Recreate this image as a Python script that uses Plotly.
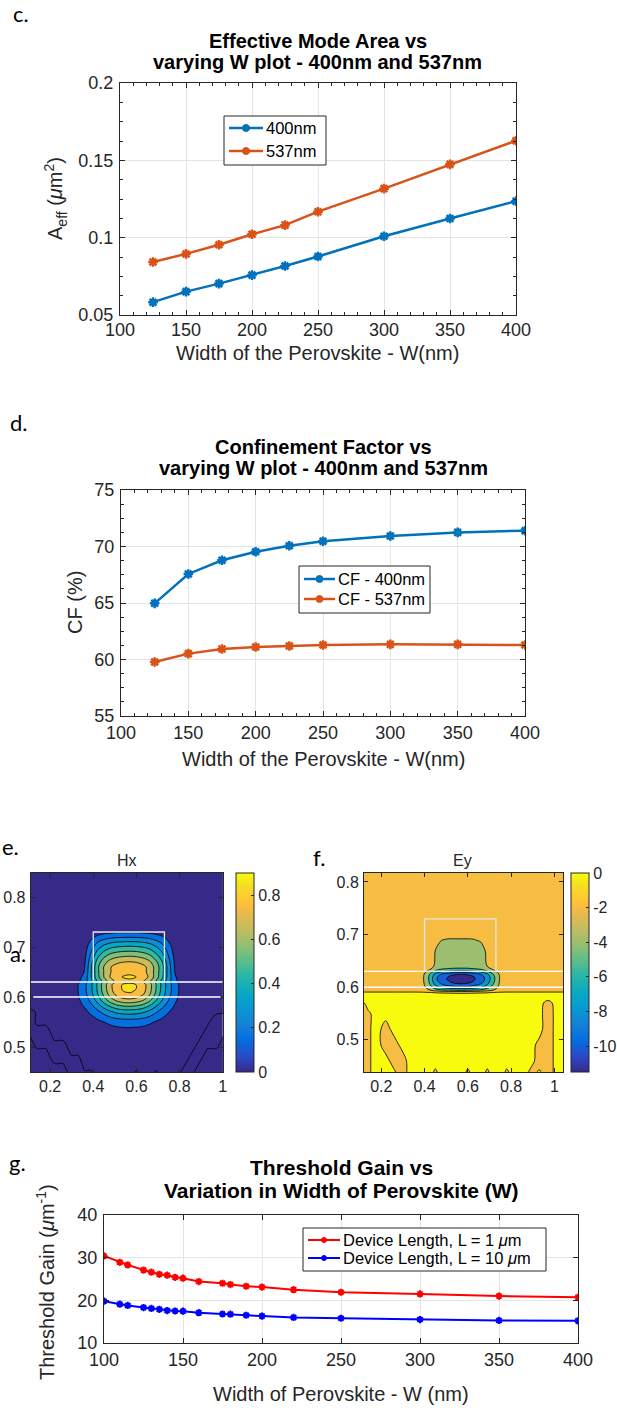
import plotly.graph_objects as go
import numpy as np

FIG_W, FIG_H = 617, 1408
FONT = "Liberation Sans, Arial, Helvetica, sans-serif"
LETTER_FONT = "Lato, Liberation Sans, sans-serif"
INK = "#262626"

# ---------------- panel c : effective mode area ----------------
w_c = [125, 150, 175, 200, 225, 250, 300, 350, 400]
aeff_400 = [0.0583, 0.0651, 0.0703, 0.0758, 0.0817, 0.0878, 0.1009, 0.1124, 0.1236]
aeff_537 = [0.0843, 0.0895, 0.0954, 0.1022, 0.1081, 0.1168, 0.1317, 0.1474, 0.1627]
names_c = ["400nm", "537nm"]

# ---------------- panel d : confinement factor ----------------
w_d = [125, 150, 175, 200, 225, 250, 300, 350, 400]
cf_400 = [64.97, 67.57, 68.78, 69.54, 70.07, 70.46, 70.93, 71.25, 71.40]
cf_537 = [59.78, 60.52, 60.93, 61.10, 61.19, 61.28, 61.34, 61.34, 61.28]
names_d = ["CF - 400nm", "CF - 537nm"]

# ---------------- panel g : threshold gain ----------------
w_g = [100, 110, 115, 125, 130, 135, 140, 145, 150, 160, 175, 180, 190, 200, 220, 250, 300, 350, 400]
gth_1um = [30.4, 28.9, 28.3, 27.1, 26.6, 26.1, 25.9, 25.4, 25.2, 24.4, 24.0, 23.7, 23.3, 23.1, 22.5, 21.9, 21.5, 21.0, 20.7]
gth_10um = [19.8, 19.1, 18.8, 18.3, 18.1, 17.9, 17.6, 17.5, 17.45, 17.1, 16.8, 16.75, 16.5, 16.3, 16.0, 15.8, 15.5, 15.3, 15.2]
names_g = ["Device Length, L = 1 <i>μ</i>m", "Device Length, L = 10 <i>μ</i>m"]

# ---------------- panels e / f : mode field maps (um) ----------------
field_x = [0.10, 0.14, 0.18, 0.22, 0.26, 0.30, 0.33, 0.36, 0.39, 0.42, 0.45, 0.48, 0.51, 0.54, 0.57,
           0.60, 0.63, 0.66, 0.69, 0.72, 0.75, 0.78, 0.81, 0.85, 0.89, 0.93, 0.97, 1.01, 1.05]
field_y = [0.43, 0.46, 0.49, 0.52, 0.55, 0.57, 0.58, 0.585, 0.59, 0.595, 0.60, 0.605, 0.61, 0.615, 0.62,
           0.625, 0.63, 0.635, 0.64, 0.65, 0.66, 0.67, 0.68, 0.69, 0.70, 0.71, 0.72, 0.73, 0.74, 0.76, 0.80, 0.86]

# Hx : slab-like part and ridge-like part (profiles)
hx_col_slab = [0, 0, 0, 0, 0.015, 0.05, 0.12, 0.21, 0.34, 0.50, 0.67, 0.82, 0.93, 0.985, 1.0,
               0.97, 0.905, 0.78, 0.61, 0.44, 0.29, 0.165, 0.08, 0.025, 0.005, 0, 0, 0, 0]
hx_col_ridge = [0, 0, 0, 0, 0, 0.005, 0.03, 0.12, 0.38, 0.63, 0.8, 0.91, 0.965, 0.99, 1.0,
                0.985, 0.95, 0.88, 0.74, 0.57, 0.32, 0.1, 0.02, 0, 0, 0, 0, 0, 0]
hx_row_slab = [0, 0, 0, 0.02, 0.16, 0.38, 0.53, 0.61, 0.69, 0.76, 0.82, 0.865, 0.895, 0.91, 0.905,
               0.88, 0.74, 0.58, 0.42, 0.14, 0.05, 0, 0, 0, 0, 0, 0, 0, 0, 0, 0, 0]
hx_row_ridge = [0, 0, 0, 0, 0, 0, 0, 0, 0, 0, 0, 0, 0, 0, 0.01,
                0.03, 0.12, 0.30, 0.485, 0.72, 0.80, 0.78, 0.68, 0.57, 0.46, 0.34, 0.21, 0.09, 0.02, 0, 0, 0]
HX_PEAK = 0.9
HX_FLOOR = 0.003
hx_noise_x = [0.10, 0.10, 0.14, 0.18, 0.22, 0.26, 0.30, 0.33, 0.36, 0.39,
              0.81, 0.85, 0.89, 0.93, 0.97, 0.97, 1.01, 0.60, 0.69]
hx_noise_y = [0.55, 0.57, 0.52, 0.52, 0.49, 0.49, 0.46, 0.46, 0.43, 0.43,
              0.43, 0.46, 0.49, 0.52, 0.52, 0.55, 0.55, 0.43, 0.43]
HX_NOISE = -0.01
hx_levels = (0.0, 0.8, 0.1)
hx_cbar_range = (0.0, 0.9)

# Ey : background, dome in the ridge, core in the slab
ey_base_row = [0.5] * 8 + [0.2] + [-1.0] * 23
ey_dome_row = [0, 0, 0, 0, 0, 0, 0, 0, 0, 0.6, 1, 1, 1, 1, 1, 1, 1, 1, 1, 1, 1,
               0.92, 0.72, 0.53, 0.38, 0.15, 0, 0, 0, 0, 0, 0]
ey_dome_col = [0, 0, 0, 0, 0, 0, 0, 0, 0, 0.05, 0.55, 0.93, 1, 1, 1, 1, 0.97, 0.82, 0.4, 0.02,
               0, 0, 0, 0, 0, 0, 0, 0, 0]
ey_core_row = [0, 0, 0, 0, 0, 0, 0, 0, 0.05, 0.3, 0.55, 0.78, 0.93, 1.0, 0.97, 0.82, 0.45, 0.15, 0.03,
               0, 0, 0, 0, 0, 0, 0, 0, 0, 0, 0, 0, 0]
ey_core_col = [0, 0, 0, 0, 0, 0, 0, 0, 0.06, 0.36, 0.64, 0.76, 0.85, 0.96, 1.0, 0.96, 0.85, 0.76, 0.64,
               0.40, 0.08, 0, 0, 0, 0, 0, 0, 0, 0]
EY_DOME = -2.0
EY_CORE = -8.5
ey_patch_x = [0.10, 0.10, 0.10, 0.10, 0.10, 0.10, 0.14, 0.14, 0.14, 0.14, 0.14,
              0.22, 0.22, 0.26, 0.26, 0.30, 0.30,
              0.97, 0.97, 0.97, 0.97, 0.97, 0.97, 0.93, 0.93, 0.89,
              0.45, 0.60, 0.69, 0.78]
ey_patch_y = [0.43, 0.46, 0.49, 0.52, 0.55, 0.57, 0.43, 0.46, 0.49, 0.52, 0.55,
              0.52, 0.49, 0.49, 0.46, 0.46, 0.43,
              0.43, 0.46, 0.49, 0.52, 0.55, 0.57, 0.46, 0.49, 0.43,
              0.43, 0.43, 0.43, 0.43]
ey_patch_v = [-0.8, -0.8, -0.8, -0.8, -0.8, -0.6, -0.2, -0.2, -0.2, -0.2, -0.2,
              -0.6, -0.6, -0.6, -0.6, -0.6, -0.6,
              -0.8, -0.8, -0.8, -0.8, -0.8, -0.5, -0.6, -0.4, -0.6,
              -0.5, -0.5, -0.5, -0.5]
ey_levels = (-10.0, 0.0, 2.0)
ey_cbar_range = (-11.5, 0.0)

# waveguide outline (um)
ridge_x = (0.40, 0.73)
ridge_y = (0.63, 0.73)
slab_lines_y = [0.60, 0.63]

# ---------------- build field tables ----------------
hx = HX_PEAK * (np.outer(hx_row_slab, hx_col_slab) + np.outer(hx_row_ridge, hx_col_ridge)) + HX_FLOOR
for nx, ny in zip(hx_noise_x, hx_noise_y):
    hx[field_y.index(ny), field_x.index(nx)] = HX_NOISE

ey = (np.array(ey_base_row)[:, None]
      + EY_DOME * np.outer(ey_dome_row, ey_dome_col)
      + EY_CORE * np.outer(ey_core_row, ey_core_col))
for nx, ny, nv in zip(ey_patch_x, ey_patch_y, ey_patch_v):
    ey[field_y.index(ny), field_x.index(nx)] = nv

# ---------------- colour helpers ----------------
PARULA = [
    (0 / 63, 0.2081, 0.1663, 0.5292), (5 / 63, 0.1707, 0.2919, 0.7792), (10 / 63, 0.0165, 0.4266, 0.8786),
    (15 / 63, 0.0779, 0.5040, 0.8384), (20 / 63, 0.0343, 0.5966, 0.8199), (25 / 63, 0.0267, 0.6642, 0.7607),
    (30 / 63, 0.1453, 0.7098, 0.6646), (35 / 63, 0.3482, 0.7424, 0.5473), (40 / 63, 0.5709, 0.7485, 0.4494),
    (45 / 63, 0.7525, 0.7384, 0.3768), (50 / 63, 0.9139, 0.7258, 0.3063), (53 / 63, 0.9938, 0.7455, 0.2403),
    (56 / 63, 0.9880, 0.8066, 0.1794), (59 / 63, 0.9626, 0.8705, 0.1309), (63 / 63, 0.9763, 0.9831, 0.0538)]


def parula(t):
    t = min(max(t, 0.0), 1.0)
    for a, b in zip(PARULA[:-1], PARULA[1:]):
        if t <= b[0]:
            f = (t - a[0]) / (b[0] - a[0])
            r, g, bl = (a[k] + f * (b[k] - a[k]) for k in (1, 2, 3))
            return "rgb(%d,%d,%d)" % (round(r * 255), round(g * 255), round(bl * 255))
    return "rgb(249,251,14)"


PARULA_CS = [[p[0], parula(p[0])] for p in PARULA]


def band_scale(levels, crange, mode):
    start, end, size = levels
    nc = int(round((end - start) / size)) + 1
    lo, hi = crange
    cols = []
    for k in range(nc + 1):
        if k == 0:
            t = 0.0
        else:
            lower = start + (k - 1) * size
            if mode == "mid":
                t = 0.0 if k == 1 else (lower + size / 2 - lo) / (hi - lo)
            else:
                t = (lower - lo) / (hi - lo)
        cols.append([k / nc, parula(t)])
    return cols


def px(x):
    return x / FIG_W


def py(y):
    return 1 - y / FIG_H


# ---------------- layout boxes (pixels: left, right, top, bottom) ----------------
C_BOX = (120, 516, 83, 315)
D_BOX = (121, 525, 490, 716)
E_BOX = (30.7, 222.7, 873, 1072)
F_BOX = (364, 563, 873, 1072)
G_BOX = (104, 578, 1215, 1343)


def dom(box):
    l, r, t, b = box
    return [px(l), px(r)], [py(b), py(t)]


def line_axis(domain, rng, dtick, minor, size, anchor, standoff):
    d = dict(domain=domain, range=rng, dtick=dtick, tick0=rng[0], ticks="inside", ticklen=5,
             tickwidth=1, tickcolor=INK, showline=True, linecolor=INK, linewidth=1, mirror="ticks",
             showgrid=True, gridcolor="#e4e4e4", gridwidth=1, zeroline=False, anchor=anchor,
             tickfont=dict(family=FONT, size=size, color=INK), fixedrange=True,
             ticklabelstandoff=standoff, automargin=False)
    if minor:
        d["minor"] = dict(dtick=minor, ticks="inside", ticklen=3, tickcolor=INK, showgrid=False)
    return d


def map_axis(domain, rng, vals, text, anchor, standoff):
    return dict(domain=domain, range=rng, tickvals=vals, ticktext=text, ticks="inside", ticklen=4,
                tickcolor=INK, showline=True, linecolor=INK, linewidth=1, mirror="ticks", showgrid=False,
                zeroline=False, anchor=anchor, tickfont=dict(family=FONT, size=16, color=INK),
                fixedrange=True, ticklabelstandoff=standoff, automargin=False)


fig = go.Figure()

BLUE, ORANGE = "#0072BD", "#D95319"
mk = dict(symbol="asterisk-open", size=8)

# panel c
for yy, col, nm in ((aeff_400, BLUE, names_c[0]), (aeff_537, ORANGE, names_c[1])):
    fig.add_trace(go.Scatter(x=w_c, y=yy, name=nm, mode="lines+markers", xaxis="x", yaxis="y",
                             line=dict(color=col, width=2.5), marker=dict(**mk, color=col, line=dict(color=col, width=2.5)),
                             showlegend=False))
# panel d
for yy, col, nm in ((cf_400, BLUE, names_d[0]), (cf_537, ORANGE, names_d[1])):
    fig.add_trace(go.Scatter(x=w_d, y=yy, name=nm, mode="lines+markers", xaxis="x2", yaxis="y2",
                             line=dict(color=col, width=2.5), marker=dict(**mk, color=col, line=dict(color=col, width=2.5)),
                             showlegend=False))

# panel e : Hx
fig.add_trace(go.Contour(x=field_x, y=field_y, z=hx, xaxis="x3", yaxis="y3", showscale=False,
                         autocontour=False, contours=dict(start=hx_levels[0], end=hx_levels[1], size=hx_levels[2], coloring="fill"),
                         colorscale=band_scale(hx_levels, hx_cbar_range, "mid"),
                         line=dict(color="black", width=0.8, smoothing=1.0), hoverinfo="skip", showlegend=False))
fig.add_trace(go.Scatter(x=[-5], y=[-5], mode="markers", xaxis="x3", yaxis="y3", showlegend=False, hoverinfo="skip",
                         marker=dict(size=1, color=[0], cmin=hx_cbar_range[0], cmax=hx_cbar_range[1], colorscale=PARULA_CS,
                                     showscale=True,
                                     colorbar=dict(x=px(235.7), xanchor="left", y=py(873), yanchor="top", len=199,
                                                   lenmode="pixels", thickness=18, thicknessmode="pixels", xpad=0, ypad=0,
                                                   outlinewidth=1, outlinecolor=INK, ticks="inside", ticklen=3, tickcolor=INK,
                                                   tickvals=[0, 0.2, 0.4, 0.6, 0.8], ticktext=["0", "0.2", "0.4", "0.6", "0.8"],
                                                   tickfont=dict(family=FONT, size=16, color=INK)))))
# panel f : Ey
fig.add_trace(go.Contour(x=field_x, y=field_y, z=ey, xaxis="x4", yaxis="y4", showscale=False,
                         autocontour=False, contours=dict(start=ey_levels[0], end=ey_levels[1], size=ey_levels[2], coloring="fill"),
                         colorscale=band_scale(ey_levels, ey_cbar_range, "low"),
                         line=dict(color="black", width=0.8, smoothing=1.0), hoverinfo="skip", showlegend=False))
fig.add_trace(go.Scatter(x=[-5], y=[-5], mode="markers", xaxis="x4", yaxis="y4", showlegend=False, hoverinfo="skip",
                         marker=dict(size=1, color=[0], cmin=ey_cbar_range[0], cmax=ey_cbar_range[1], colorscale=PARULA_CS,
                                     showscale=True,
                                     colorbar=dict(x=px(570.7), xanchor="left", y=py(873), yanchor="top", len=199,
                                                   lenmode="pixels", thickness=18, thicknessmode="pixels", xpad=0, ypad=0,
                                                   outlinewidth=1, outlinecolor=INK, ticks="inside", ticklen=3, tickcolor=INK,
                                                   tickvals=[0, -2, -4, -6, -8, -10], ticktext=["0", "-2", "-4", "-6", "-8", "-10"],
                                                   tickfont=dict(family=FONT, size=16, color=INK)))))

# panel g
RED, PURE_BLUE = "#ff0000", "#0000ff"
mkg = dict(symbol="asterisk-open", size=6)
for yy, col, nm in ((gth_1um, RED, names_g[0]), (gth_10um, PURE_BLUE, names_g[1])):
    fig.add_trace(go.Scatter(x=w_g, y=yy, name=nm, mode="lines+markers", xaxis="x5", yaxis="y5",
                             line=dict(color=col, width=2), marker=dict(**mkg, color=col, line=dict(color=col, width=2)),
                             showlegend=False))

cx, cy = dom(C_BOX)
dx_, dy_ = dom(D_BOX)
ex, ey_d = dom(E_BOX)
fx, fy = dom(F_BOX)
gx, gy = dom(G_BOX)

e_xr, e_yr = [0.11, 1.0], [0.45, 0.848]
f_xr, f_yr = [0.12, 1.04], [0.439, 0.817]

shapes = []
for xa, ya, xr, inset in (("x3", "y3", e_xr, (0.122, 0.99)), ("x4", "y4", f_xr, (f_xr[0], f_xr[1]))):
    shapes.append(dict(type="line", xref=xa, yref=ya, x0=inset[0], x1=inset[1], y0=slab_lines_y[0], y1=slab_lines_y[0],
                       line=dict(color="white", width=1.3)))
    shapes.append(dict(type="line", xref=xa, yref=ya, x0=xr[0], x1=xr[1], y0=slab_lines_y[1], y1=slab_lines_y[1],
                       line=dict(color="white", width=1.3)))
    shapes.append(dict(type="rect", xref=xa, yref=ya, x0=ridge_x[0], x1=ridge_x[1], y0=ridge_y[0], y1=ridge_y[1],
                       line=dict(color="#e6e6e6", width=1.3)))


def ann(text, x, y, size, bold=False, angle=0, family=FONT, color="#000000", xanchor="center"):
    if bold:
        text = "<b>%s</b>" % text
    return dict(text=text, x=px(x), y=py(y), xref="paper", yref="paper", showarrow=False, textangle=angle,
                xanchor=xanchor, yanchor="middle", font=dict(family=family, size=size, color=color))


annotations = [
    ann("c.", 11, 14, 22, family=LETTER_FONT, xanchor="left"),
    ann("Effective Mode Area vs", 318, 41, 20, bold=True),
    ann("varying W plot - 400nm and 537nm", 318, 62, 20, bold=True),
    ann("A<sub>eff</sub> (<i>μ</i>m<sup>2</sup>)", 55, 199, 20, angle=-90, color=INK),
    ann("Width of the Perovskite - W(nm)", 318, 353, 20, color=INK),
    ann("d.", 8, 422, 22, family=LETTER_FONT, xanchor="left"),
    ann("Confinement Factor vs", 323, 447, 20, bold=True),
    ann("varying W plot - 400nm and 537nm", 323, 468, 20, bold=True),
    ann("CF (%)", 75, 603, 20, angle=-90, color=INK),
    ann("Width of the Perovskite - W(nm)", 323, 759, 20, color=INK),
    ann("e.", 0, 846, 22, family=LETTER_FONT, xanchor="left"),
    ann("Hx", 127, 860, 16, color=INK),
    ann("f.", 311, 857, 22, family=LETTER_FONT, xanchor="left"),
    ann("Ey", 463, 860, 16, color=INK),
    ann("a.", 8, 953, 22, family=LETTER_FONT, xanchor="left"),
    ann("g.", 7, 1162, 22, family=LETTER_FONT, xanchor="left"),
    ann("Threshold Gain vs", 341, 1167, 21, bold=True),
    ann("Variation in Width of Perovskite (W)", 341, 1190, 21, bold=True),
    ann("Threshold Gain (<i>μ</i>m<sup>-1</sup>)", 45, 1282, 20, angle=-90, color=INK),
    ann("Width of Perovskite - W (nm)", 341, 1394, 20, color=INK),
]


# ---------------- legends (box, key line + marker, label) ----------------
def add_legend(box, rows_y, line_x, text_x, names, colors, lw, dot_r, size):
    l, r, t, b = box
    shapes.append(dict(type="rect", xref="paper", yref="paper", x0=px(l), x1=px(r), y0=py(b), y1=py(t),
                       fillcolor="white", line=dict(color=INK, width=1), layer="above"))
    for yy, nm, col in zip(rows_y, names, colors):
        shapes.append(dict(type="line", xref="paper", yref="paper", x0=px(line_x[0]), x1=px(line_x[1]),
                           y0=py(yy), y1=py(yy), line=dict(color=col, width=lw), layer="above"))
        xm = (line_x[0] + line_x[1]) / 2
        shapes.append(dict(type="circle", xref="paper", yref="paper", x0=px(xm - dot_r), x1=px(xm + dot_r),
                           y0=py(yy + dot_r), y1=py(yy - dot_r), fillcolor=col, line=dict(color=col, width=1),
                           layer="above"))
        annotations.append(ann(nm, text_x, yy, size, xanchor="left"))


add_legend((224, 326, 116, 165), [128, 151], (229, 263), 264, names_c, [BLUE, ORANGE], 2.5, 3.5, 16.5)
add_legend((299, 430, 566, 613), [579, 599], (304, 335), 336, names_d, [BLUE, ORANGE], 2.5, 3.5, 16.5)
add_legend((303, 546, 1228, 1271), [1240, 1258], (308, 340), 341, names_g, [RED, PURE_BLUE], 2, 2.5, 16.5)

fig.update_layout(
    width=FIG_W, height=FIG_H, margin=dict(l=0, r=0, t=0, b=0, autoexpand=False),
    paper_bgcolor="white", plot_bgcolor="white", showlegend=False,
    xaxis=line_axis(cx, [100, 400], 50, 10, 18, "y", -2),
    yaxis=line_axis(cy, [0.05, 0.2], 0.05, 0.0125, 18, "x", 2),
    xaxis2=line_axis(dx_, [100, 400], 50, 10, 18, "y2", 0),
    yaxis2=line_axis(dy_, [55, 75], 5, 1.25, 18, "x2", 2),
    xaxis3=map_axis(ex, e_xr, [0.2, 0.4, 0.6, 0.8, 1.0], ["0.2", "0.4", "0.6", "0.8", "1"], "y3", 0),
    yaxis3=map_axis(ey_d, e_yr, [0.5, 0.6, 0.7, 0.8], ["0.5", "0.6", "0.7", "0.8"], "x3", 1),
    xaxis4=map_axis(fx, f_xr, [0.2, 0.4, 0.6, 0.8, 1.0], ["0.2", "0.4", "0.6", "0.8", "1"], "y4", 0),
    yaxis4=map_axis(fy, f_yr, [0.5, 0.6, 0.7, 0.8], ["0.5", "0.6", "0.7", "0.8"], "x4", 1),
    xaxis5=line_axis(gx, [100, 400], 50, None, 18, "y5", 0),
    yaxis5=line_axis(gy, [10, 40], 10, None, 18, "x5", 2),
    shapes=shapes,
    annotations=annotations,
)

fig.write_html("out.html")
